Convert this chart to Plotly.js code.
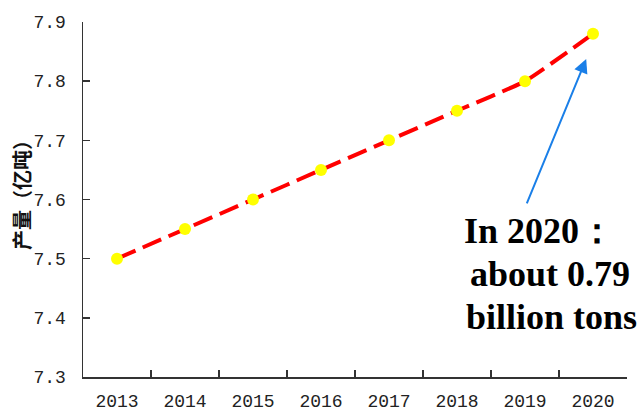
<!DOCTYPE html>
<html><head><meta charset="utf-8">
<script src="https://cdn.plot.ly/plotly-3.0.1.min.js"></script>
<style>html,body{margin:0;padding:0;background:#fff}</style>
</head><body>
<div id="chart" style="width:642px;height:415px"></div>
<script>
const years = ['2013','2014','2015','2016','2017','2018','2019','2020'];
const output = [7.5, 7.55, 7.6, 7.65, 7.7, 7.75, 7.8, 7.88];
const yTicks = [7.3, 7.4, 7.5, 7.6, 7.7, 7.8, 7.9];
const yTitle = '产量（亿吨）';
const noteLines = ['In 2020：', 'about 0.79', 'billion tons'];

const trace = {
  x: years, y: output, type: 'scatter', mode: 'lines+markers',
  line: {color: '#FF0000', width: 4, dash: '20px,8px', shape: 'spline', smoothing: 0.4},
  marker: {color: '#FFFF00', size: 12},
  cliponaxis: false
};
const axisFont = {family: 'Liberation Mono, DejaVu Sans Mono, monospace', size: 18, color: '#222'};
const noteFont = {family: 'Liberation Serif, Times New Roman, serif', size: 36, color: '#000', weight: 'bold'};
const notePos = [[0.840, 0.411], [0.858, 0.290], [0.862, 0.169]];
const annotations = [
  {
    xref: 'x', yref: 'y', x: 6.9, y: 7.8375, text: '',
    showarrow: true, arrowhead: 2, arrowsize: 1.4, arrowwidth: 2, arrowcolor: '#1A7FE8',
    axref: 'pixel', ayref: 'pixel', ax: -60, ay: 146
  },
  {
    xref: 'paper', yref: 'paper', x: -0.112, y: 0.527, xanchor: 'center', yanchor: 'middle',
    text: yTitle, textangle: -90, showarrow: false,
    font: {family: 'Noto Sans CJK SC', size: 20, color: '#111', weight: 'bold'}
  }
];
noteLines.forEach((t, i) => annotations.push({
  xref: 'paper', yref: 'paper', x: notePos[i][0], y: notePos[i][1],
  xanchor: 'center', yanchor: 'middle', text: t, showarrow: false, font: noteFont
}));
const layout = {
  width: 642, height: 415,
  margin: {l: 83, r: 15, t: 22, b: 38},
  paper_bgcolor: '#fff', plot_bgcolor: '#fff',
  showlegend: false,
  xaxis: {
    type: 'category', range: [-0.5, 7.5], tickson: 'boundaries',
    ticks: 'inside', ticklen: 7, tickcolor: '#333', tickwidth: 1.5,
    showline: true, linecolor: '#333', linewidth: 1.5,
    showgrid: false, zeroline: false, tickfont: axisFont, ticklabelstandoff: 7
  },
  yaxis: {
    range: [7.3, 7.9], tickmode: 'array', tickvals: yTicks, tickformat: '.1f',
    ticks: 'inside', ticklen: 7, tickcolor: '#333', tickwidth: 1.5,
    showline: true, linecolor: '#333', linewidth: 1.5,
    showgrid: false, zeroline: false, tickfont: axisFont, ticklabelstandoff: 12
  },
  annotations: annotations
};
Plotly.newPlot('chart', [trace], layout, {displayModeBar: false, staticPlot: true});
</script>
</body></html>
